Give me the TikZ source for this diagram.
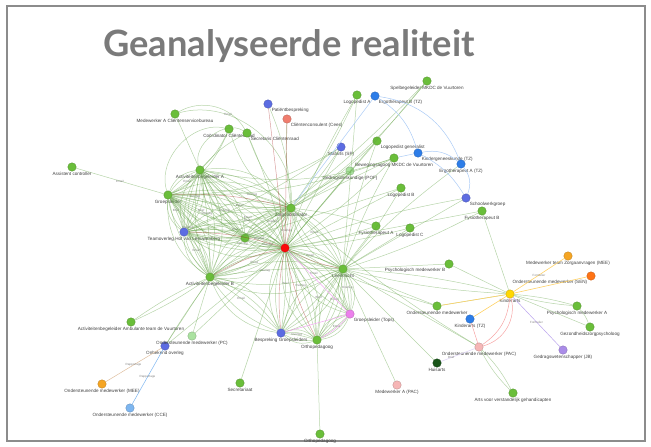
\documentclass[tikz,border=0pt]{standalone}
\usepackage{fontspec}
\setmainfont{Liberation Sans}
\newfontfamily\titlefont{Lato}
\usetikzlibrary{positioning,calc}
\definecolor{ngreen}{RGB}{106,190,58}
\definecolor{egreen}{RGB}{96,160,66}
\definecolor{nblue}{RGB}{92,108,226}
\definecolor{nbblue}{RGB}{45,125,232}
\definecolor{nsalmon}{RGB}{240,125,110}
\definecolor{nred}{RGB}{250,10,10}
\definecolor{nyellow}{RGB}{255,215,0}
\definecolor{norange}{RGB}{245,165,35}
\definecolor{norred}{RGB}{255,115,20}
\definecolor{npink}{RGB}{246,182,182}
\definecolor{nmagenta}{RGB}{236,128,236}
\definecolor{nlgreen}{RGB}{170,226,160}
\definecolor{nlblue}{RGB}{125,182,240}
\definecolor{npurple}{RGB}{170,140,232}
\definecolor{ndgreen}{RGB}{25,85,25}

\begin{document}
\begin{tikzpicture}[
    x=1pt, y=-1pt,
    vert/.style={circle, fill=#1, draw=#1!75!black, line width=0.3pt, minimum size=8.5pt, inner sep=0pt},
    lbl/.style={font=\fontsize{4.6}{5}\selectfont, text=black!75, inner sep=0.5pt},
    elbl/.style={font=\fontsize{3}{3}\selectfont, text=black!50, inner sep=0.3pt},
    edge/.style={draw=egreen, draw opacity=0.45, line width=0.5pt},
    redge/.style={draw=red!60!black, draw opacity=0.4, line width=0.45pt},
    bedge/.style={draw=nbblue!40, line width=0.5pt},
    yedge/.style={draw=nyellow!60!orange!60, line width=0.6pt},
    pedge/.style={draw=nmagenta!70, line width=0.5pt}
]
    \useasboundingbox (0,0) rectangle (651,447);
    \draw[black!45, line width=2pt] (7,6) rectangle (645,441);
    \node[font=\titlefont\bfseries\fontsize{36.3}{42}\selectfont, text=black!52] (title) at (289,46) {Geanalyseerde realiteit};

    % --- hubs ---
    \node[vert=nred] (cl) at (285,248) {};
    \node[vert=ngreen, label={[lbl]below:Zorgcoördinator}] (zc) at (291,208) {};
    \node[vert=ngreen, label={[lbl]below:Activiteitenbegeleider A}] (ab) at (200,170) {};
    \node[vert=ngreen, label={[lbl]below:Groepsleider}] (gl) at (168,195) {};
    \node[vert=nblue, label={[lbl]below:Teamoverleg Hof van Leeuwenberg}] (to) at (184,232) {};
    \node[vert=ngreen, label={[lbl]below:Activiteitenbegeleider B}] (abb) at (210,277) {};
    \node[vert=ngreen] (gb) at (245,238) {};
    \node[vert=ngreen, label={[lbl]below:Leerkracht}] (lk) at (343,269) {};
    \node[vert=nblue, label={[lbl]below:Bespreking Groepsleiders}] (be) at (281,333) {};
    \node[vert=ngreen, label={[lbl]below:Orthopedagoog}] (og) at (317,340) {};
    \node[vert=nmagenta, label={[lbl]below right:Groepsleider (Tops)}] (gt) at (350,314) {};

    % --- top ---
    \node[vert=ngreen, label={[lbl]below:Spelbegeleider MKDC de Vuurtoren}] (sp) at (427,81) {};
    \node[vert=ngreen, label={[lbl]below:Logopedist A}] (lgA) at (357,95) {};
    \node[vert=nbblue, label={[lbl]below right:Ergotherapeut B (TZ)}] (ergoB) at (375,96) {};
    \node[vert=nblue, label={[lbl]below right:Patiëntbespreking}] (pb) at (268,104) {};
    \node[vert=nsalmon, label={[lbl]below right:Cliëntenconsulent (Cees)}] (cc) at (287,119) {};
    \node[vert=ngreen, label={[lbl]below:Medewerker A Cliëntenservicebureau}] (mwcs) at (175,114) {};
    \node[vert=ngreen, label={[lbl]below:Coördinator Cliëntenraad}] (co1) at (229,129) {};
    \node[vert=ngreen, label={[lbl]below right:Secretaris Cliëntenraad}] (co2) at (247,133) {};
    \node[vert=ngreen, label={[lbl]below:Assistent controller}] (ac) at (72,167) {};
    \node[vert=nblue, label={[lbl]below:Stafarts (SP)}] (sa) at (341,147) {};
    \node[vert=ngreen, label={[lbl]below right:Logopedist generalist}] (lgg) at (377,141) {};
    \node[vert=ngreen, label={[lbl]below:Bewegingsagoog MKDC de Vuurtoren}] (bw) at (394,158) {};
    \node[vert=nbblue, label={[lbl]below right:Kindergeneeskunde (TZ)}] (kb) at (418,153) {};
    \node[vert=nbblue, label={[lbl]below:Ergotherapeut A (TZ)}] (ergoA) at (461,164) {};
    \node[vert=nlgreen, label={[lbl]below:Gedragsdeskundige (POF)}] (pof) at (350,171) {};
    \node[vert=ngreen, label={[lbl]below:Logopedist B}] (lgB) at (401,188) {};
    \node[vert=nblue, label={[lbl]below right:Schoolwerkgroep}] (sbw) at (466,198) {};
    \node[vert=ngreen, label={[lbl]below:Fysiotherapeut B}] (fyB) at (482,211) {};
    \node[vert=ngreen, label={[lbl]below:Fysiotherapeut A}] (fyA) at (376,226) {};
    \node[vert=ngreen, label={[lbl]below:Logopedist C}] (lgC) at (410,228) {};

    % --- right ---
    \node[vert=ngreen, label={[lbl]below left:Psychologisch medewerker B}] (pmB) at (449,264) {};
    \node[vert=ngreen, label={[lbl]below:Ondersteunende medewerker}] (om) at (437,306) {};
    \node[vert=nyellow, label={[lbl]below:Kinderarts}] (ka) at (510,294) {};
    \node[vert=nbblue, label={[lbl]below:Kinderarts (TZ)}] (kaTZ) at (470,319) {};
    \node[vert=norange, label={[lbl]below:Medewerker team Zorgaanvragen (MEE)}] (mee) at (568,256) {};
    \node[vert=norred, label={[lbl]below left:Ondersteunende medewerker (SEN)}] (sen) at (591,276) {};
    \node[vert=ngreen, label={[lbl]below:Psychologisch medewerker A}] (pmA) at (577,306) {};
    \node[vert=ngreen, label={[lbl]below:Gezondheidszorgpsycholoog}] (gzp) at (590,327) {};
    \node[vert=npurple, label={[lbl]below:Gedragswetenschapper (JB)}] (gwJB) at (563,350) {};
    \node[vert=npink, label={[lbl]below:Ondersteunende medewerker (PAC)}] (pac) at (479,347) {};
    \node[vert=npink, label={[lbl]below:Medewerker A (PAC)}] (mpac) at (397,385) {};
    \node[vert=ndgreen, label={[lbl]below:Huisarts}] (ha) at (437,363) {};
    \node[vert=ngreen, label={[lbl]below:Arts voor verstandelijk gehandicapten}] (avg) at (513,393) {};

    % --- bottom left ---
    \node[vert=ngreen, label={[lbl]below:Orthopedagoog}] (orth) at (320,434) {};
    \node[vert=ngreen, label={[lbl]below:Secretariaat}] (secr) at (240,383) {};
    \node[vert=nblue, label={[lbl]below:Onbekend overleg}] (onb) at (165,346) {};
    \node[vert=norange, label={[lbl]below:Ondersteunende medewerker (MEE)}] (omee) at (102,384) {};
    \node[vert=nlblue, label={[lbl]below:Ondersteunende medewerker (CCE)}] (cce) at (130,408) {};
    \node[vert=nlgreen, label={[lbl]below:Ondersteunende medewerker (PC)}] (opc) at (192,336) {};
    \node[vert=ngreen, label={[lbl]below:Activiteitenbegeleider Ambulante team de Vuurtoren}] (amb) at (131,322) {};

    % --- bundles between hubs ---
    \foreach \a/\b/\t in {cl/zc/Overleg, cl/ab/Email, cl/gl/Brief, cl/to/Overleg, cl/abb/Email,
        cl/gb/Overleg, cl/lk/Email, cl/be/Brief, cl/og/Overleg, cl/gt/Email, zc/ab/Overleg,
        zc/gl/Email, zc/to/Brief, zc/gb/Overleg, zc/lk/Email, zc/abb/Overleg, ab/gl/Email,
        ab/to/Overleg, gl/to/Brief, to/abb/Email, gl/abb/Overleg, gb/to/, gb/ab/Overleg,
        lk/og/Email, lk/gt/Overleg, lk/be/Brief, be/og/Overleg, abb/be/Email, abb/lk/Overleg,
        gt/og/Email, gl/gb/Brief, ab/abb/Overleg} {
        \foreach \c in {-30,-16,16,30}
            \draw[edge] (\a) to[bend left=\c] (\b);
        \draw[edge] (\a) to[bend left=5] node[elbl, pos=0.4] {\t} (\b);
    }
    \foreach \a/\b in {cl/zc, cl/to, cl/abb, cl/be, cl/og, cl/lk, zc/gl}
        \draw[redge] (\a) to[bend right=8] (\b);

    % --- top connections ---
    \foreach \a/\b/\c in {sp/zc/8, sp/gb/5, sp/cl/0, lgA/zc/5, lgA/cl/-5, lgA/lk/0, pb/zc/10,
        cc/zc/-5, mwcs/ab/0, co1/ab/10, co1/gl/20, co1/zc/-20, co2/zc/-10, co2/cl/5, co2/ab/-10,
        sa/zc/5, sa/cl/0, sa/gl/15, lgg/zc/5, lgg/cl/0, lgg/lk/-5, bw/zc/0, bw/cl/5, bw/gl/10,
        bw/ab/15, bw/lk/-5, pof/zc/5, pof/cl/0, pof/to/10, lgB/cl/0, lgB/lk/5, sbw/cl/-5,
        sbw/lk/0, fyB/lk/5, fyB/cl/0, fyA/lk/0, fyA/cl/5, fyA/zc/-5, lgC/lk/0, lgC/cl/5,
        ergoA/lk/-5, lgB/gb/0, sa/to/5}
        \draw[edge] (\a) to[bend left=\c] (\b);
    \draw[edge] (mwcs) to[bend left=55] node[elbl, pos=0.3] {Email} (zc);
    \draw[edge] (mwcs) to[bend left=45] (co2);
    \draw[edge] (ab) to[bend left=70] (co2);
    \draw[edge] (gl) to[bend left=60] (co1);
    \draw[redge] (pb) -- (cl);
    \draw[redge] (cc) -- (cl);
    \draw[edge] (ac) -- node[elbl] {Email} (gl);
    \draw[bedge] (ergoB) to[bend left=20] (kb);
    \draw[bedge] (ergoB) to[bend left=30] (ergoA);
    \draw[bedge] (kb) to[bend left=25] (ergoA);
    \draw[bedge] (kb) -- (bw);
    \draw[bedge] (ergoA) to[bend left=30] (sbw);
    \draw[bedge] (kb) to[bend left=15] (sbw);
    \draw[bedge] (ergoB) -- (zc);

    % --- right connections ---
    \foreach \a/\b/\c in {pmB/lk/0, pmB/ka/0, om/lk/0, om/ka/0, om/cl/5, ka/lk/5, ka/lk/-5,
        ka/pmA/5, ka/pmA/-5, ka/gzp/0, pmA/gzp/10, pac/avg/8, pac/avg/-8, pac/lk/0, pac/zc/5,
        mpac/lk/0, ha/lk/0, og/orth/0, secr/cl/0, fyB/ka/0}
        \draw[edge] (\a) to[bend left=\c] (\b);
    \draw[yedge] (ka) -- node[elbl] {Formulier} (mee);
    \draw[yedge] (ka) -- (sen);
    \draw[yedge] (ka) -- (kaTZ);
    \draw[yedge] (ka) -- (om);
    \draw[draw=npurple!80, line width=0.5pt] (ka) -- node[elbl] {Formulier} (gwJB);
    \draw[draw=npink!90!red, line width=0.5pt] (ka) to[bend left=25] (pac);
    \draw[draw=npink!90!red, line width=0.5pt] (ka) to[bend left=45] (pac);
    \draw[draw=npurple!40, line width=0.5pt] (pac) -- node[elbl, pos=0.7] {Brief} (ha);
    \draw[draw=npink!90!red, line width=0.5pt] (kaTZ) -- (pac);

    % --- bottom left connections ---
    \draw[draw=brown!50, line width=0.5pt] (onb) -- node[elbl] {Rapportage} (omee);
    \draw[draw=nlblue, line width=0.5pt] (onb) -- node[elbl] {Rapportage} (cce);
    \foreach \a/\b/\c in {onb/abb/0, onb/cl/0, onb/gb/5, opc/abb/0, opc/cl/0, amb/abb/5, amb/abb/-5}
        \draw[edge] (\a) to[bend left=\c] (\b);
    \draw[pedge] (gt) -- (be);
    \draw[pedge] (gt) to[bend left=10] (og);
    \draw[pedge] (gt) -- (cl);
\end{tikzpicture}
\end{document}
